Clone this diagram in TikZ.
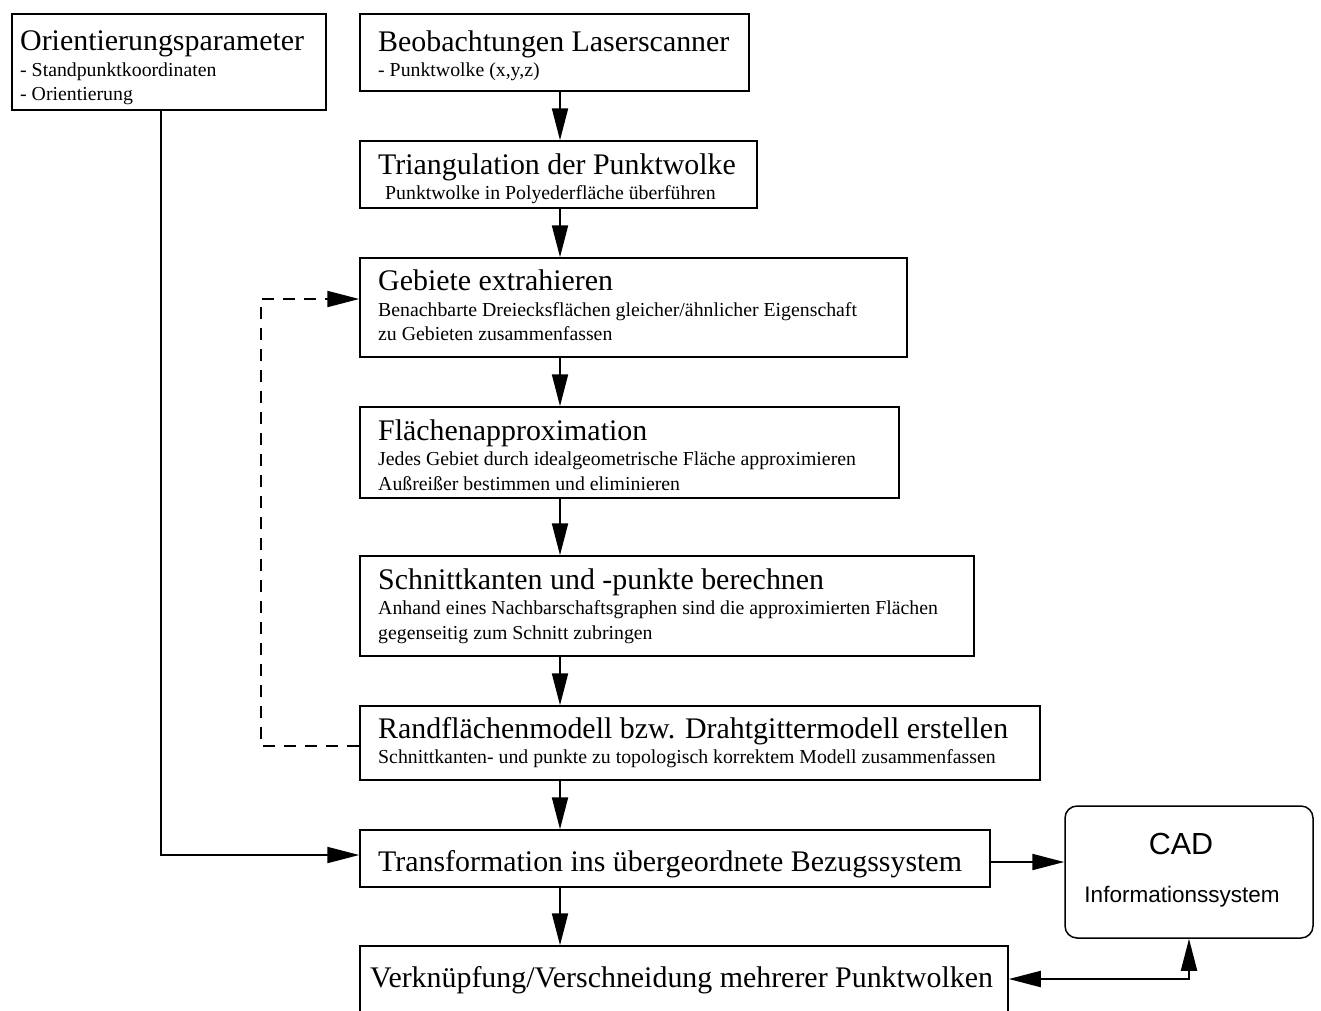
\documentclass[tikz,border=0pt]{standalone}
\usepackage{fontspec}
\setmainfont{Liberation Serif}
\newfontfamily\hv{Liberation Sans}
\usetikzlibrary{arrows.meta}
\begin{document}
\begin{tikzpicture}[x=1pt,y=-1pt,
  box/.style={draw, line width=1.5pt, inner sep=0pt},
  ttl/.style={anchor=base west, inner sep=0pt, font=\fontsize{29.9}{30}\selectfont},
  sub/.style={anchor=base west, inner sep=0pt, font=\fontsize{19.8}{20}\selectfont},
  conn/.style={line width=2pt, -{Triangle[length=32pt,width=16pt]}},
  dconn/.style={line width=2pt, {Triangle[length=32pt,width=16pt]}-{Triangle[length=32pt,width=16pt]}},
  dashconn/.style={line width=2pt, dash pattern=on 12pt off 9pt, -{Triangle[length=32pt,width=16pt]}}]
\clip (0,0) rectangle (1321,1010);
\fill[white] (0,0) rectangle (1321,1010);
% boxes
\node[box, minimum width=314pt, minimum height=96pt] (orient) at (169,62) {};
\node[box, minimum width=389pt, minimum height=77pt] (beob) at (554.5,52.5) {};
\node[box, minimum width=397pt, minimum height=67pt] (tri) at (558.5,174.5) {};
\node[box, minimum width=547pt, minimum height=99pt] (geb) at (633.5,307.5) {};
\node[box, minimum width=539pt, minimum height=91pt] (fla) at (629.5,452.5) {};
\node[box, minimum width=614pt, minimum height=100pt] (sch) at (667,606) {};
\node[box, minimum width=680pt, minimum height=74pt] (rand) at (700,743) {};
\node[box, minimum width=630pt, minimum height=57pt] (tra) at (675,858.5) {};
\node[box, minimum width=648pt, minimum height=94pt] (ver) at (684,993) {};
\node[box, rounded corners=12pt, minimum width=248pt, minimum height=132pt] (cad) at (1189,872) {};
% texts
\node[ttl] (t1) at (20,50) {Orientierungsparameter};
\node[sub] (t1a) at (20,76) {- Standpunktkoordinaten};
\node[sub] (t1b) at (20,100) {- Orientierung};
\node[ttl] (t2) at (378,51) {Beobachtungen Laserscanner};
\node[sub] (t2a) at (378,76) {- Punktwolke (x,y,z)};
\node[ttl] (t3) at (378,174) {Triangulation der Punktwolke};
\node[sub] (t3a) at (385,199) {Punktwolke in Polyederfläche überführen};
\node[ttl] (t4) at (378,290) {Gebiete extrahieren};
\node[sub] (t4a) at (378,316) {Benachbarte Dreiecksflächen gleicher/ähnlicher Eigenschaft};
\node[sub] (t4b) at (378,340) {zu Gebieten zusammenfassen};
\node[ttl] (t5) at (378,440) {Flächenapproximation};
\node[sub] (t5a) at (378,465) {Jedes Gebiet durch idealgeometrische Fläche approximieren};
\node[sub] (t5b) at (378,490) {Außreißer bestimmen und eliminieren};
\node[ttl] (t6) at (378,589) {Schnittkanten und -punkte berechnen};
\node[sub] (t6a) at (378,614) {Anhand eines Nachbarschaftsgraphen sind die approximierten Flächen};
\node[sub] (t6b) at (378,639) {gegenseitig zum Schnitt zubringen};
\node[ttl] (t7) at (378,738) {Randflächenmodell bzw. Drahtgittermodell erstellen};
\node[sub] (t7a) at (378,763) {Schnittkanten- und punkte zu topologisch korrektem Modell zusammenfassen};
\node[ttl] (t8) at (378,871) {Transformation ins übergeordnete Bezugssystem};
\node[ttl] (t9) at (370,987) {Verknüpfung/Verschneidung mehrerer Punktwolken};
\node[inner sep=0pt, font=\hv\fontsize{30.5}{31}\selectfont] (c1) at (1181,844) {CAD};
\node[inner sep=0pt, font=\hv\fontsize{22.5}{23}\selectfont] (c2) at (1182,897) {Informationssystem};
% connectors
\coordinate (colx) at (560,0);
\coordinate (ox) at (161,0);
\coordinate (dl) at (261,0);
\draw[conn] (beob.south -| colx) -- (tri.north -| colx);
\draw[conn] (tri.south -| colx) -- (geb.north -| colx);
\draw[conn] (geb.south -| colx) -- (fla.north -| colx);
\draw[conn] (fla.south -| colx) -- (sch.north -| colx);
\draw[conn] (sch.south -| colx) -- (rand.north -| colx);
\draw[conn] (rand.south -| colx) -- (tra.north -| colx);
\draw[conn] (tra.south -| colx) -- (ver.north -| colx);
\draw[conn] (orient.south -| ox) |- ([yshift=3.5pt]tra.west);
\draw[conn] ([yshift=-3.5pt]tra.east) -- ([yshift=-3.5pt]tra.east -| cad.west);
\draw[dconn] ([yshift=14pt]ver.east) -| (cad.south);
\draw[dashconn] ([yshift=-3pt]rand.west) -- ([yshift=-3pt]rand.west -| dl) |- ([yshift=8.5pt]geb.west);
\end{tikzpicture}
\end{document}
